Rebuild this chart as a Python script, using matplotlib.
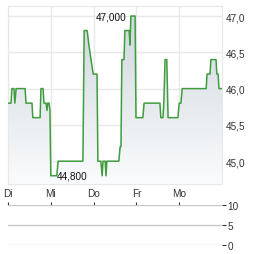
import numpy as np
import matplotlib
matplotlib.use("Agg")
import matplotlib.pyplot as plt
from matplotlib.ticker import FuncFormatter
from matplotlib.colors import LinearSegmentedColormap

plt.rcParams['font.family'] = ['Liberation Sans', 'DejaVu Sans']

# time in trading days since Tuesday (Di = 0), price
days = [0.00, 0.07, 0.09, 0.14, 0.16, 0.19, 0.40, 0.42, 0.56, 0.58, 0.75, 0.77,
        0.82, 0.84, 0.89, 0.91, 0.93, 0.96, 0.98, 1.00, 1.14, 1.17, 1.75, 1.78,
        1.85, 1.89, 1.94, 1.99, 2.08, 2.10, 2.17, 2.20, 2.22, 2.27, 2.29, 2.31,
        2.59, 2.62, 2.64, 2.66, 2.71, 2.73, 2.83, 2.85, 2.87, 2.97, 2.99, 3.15,
        3.18, 3.55, 3.57, 3.62, 3.64, 3.67, 3.71, 3.74, 3.97, 4.00, 4.04, 4.07,
        4.63, 4.65, 4.72, 4.74, 4.86, 4.88, 4.91, 4.93, 5.00]
price = [45.8, 45.8, 46.0, 46.0, 45.8, 46.0, 46.0, 45.8, 45.8, 45.6, 45.6, 46.0,
         46.0, 45.8, 45.8, 45.7, 45.8, 45.8, 45.7, 44.8, 44.8, 45.0, 45.0, 46.8,
         46.8, 46.6, 46.4, 46.2, 46.2, 45.0, 45.0, 44.8, 45.0, 45.0, 44.8, 45.0,
         45.0, 45.2, 45.2, 46.4, 46.4, 46.8, 46.8, 46.6, 47.0, 47.0, 45.6, 45.6,
         45.8, 45.8, 45.6, 45.6, 45.8, 46.4, 46.4, 45.6, 45.6, 45.8, 45.8, 46.0,
         46.0, 46.2, 46.2, 46.4, 46.4, 46.2, 46.2, 46.0, 46.0]

day_labels = ["Di", "Mi", "Do", "Fr", "Mo"]
price_ticks = [45.0, 45.5, 46.0, 46.5, 47.0]
vol_ticks = [0, 5, 10]

hi_label = "47,000"
lo_label = "44,800"

grid_c = '#e8e8e8'
txt_c = '#333333'

fig = plt.figure(figsize=(2.64, 2.55), dpi=100)
ax = fig.add_axes([8/264, 1-185/255, 214/264, 178/255])

ymin, ymax = 44.686, 47.138
ax.set_xlim(0, 5)
ax.set_ylim(ymin, ymax)

# gradient area under the line
poly = ax.fill_between(days, price, ymin, color='none', lw=0)
cmap = LinearSegmentedColormap.from_list('g', ['#fafbfc', '#cdd6dc'])
grad = np.linspace(0, 1, 256).reshape(-1, 1)
im = ax.imshow(grad, cmap=cmap, aspect='auto', origin='lower',
               extent=[0, 5, ymin, ymax], zorder=1)
im.set_clip_path(poly.get_paths()[0], transform=ax.transData)

ax.plot(days, price, color='#3f9c3f', lw=1.1, zorder=3)

ax.set_xticks(range(len(day_labels)))
ax.set_xticklabels(day_labels)
ax.set_yticks(price_ticks)
ax.yaxis.set_major_formatter(FuncFormatter(lambda v, p: f"{v:.1f}".replace('.', ',')))
ax.yaxis.tick_right()
ax.tick_params(axis='both', length=0, labelsize=7.2, colors=txt_c)
ax.tick_params(axis='x', pad=3)
ax.tick_params(axis='y', pad=3)
ax.grid(True, color=grid_c, lw=1)
ax.set_axisbelow(True)
for s in ax.spines.values():
    s.set_color(grid_c)

i_hi = int(np.argmax(price))
i_lo = int(np.argmin(price))
ax.annotate(hi_label, (days[i_hi], price[i_hi]), xytext=(-4, 0),
            textcoords='offset pixels', ha='right', va='center',
            fontsize=7.2, color='#111111', zorder=4)
ax.annotate(lo_label, (days[i_lo], price[i_lo]), xytext=(6, 0),
            textcoords='offset pixels', ha='left', va='center',
            fontsize=7.2, color='#111111', zorder=4)

# volume panel (empty)
ax2 = fig.add_axes([8/264, 1-246/255, 214/264, 40/255])
ax2.set_xlim(0, 5)
ax2.set_ylim(0, 10)
ax2.set_xticks(range(len(day_labels)))
ax2.set_yticks(vol_ticks)
ax2.yaxis.tick_right()
ax2.tick_params(axis='x', top=True, bottom=False, labeltop=False,
                labelbottom=False, length=2, width=0.8, colors=txt_c)
ax2.tick_params(axis='y', length=3, width=0.8, pad=1, labelsize=7.2, colors=txt_c)
ax2.grid(True, axis='y', color='#c8c8c8', lw=1)
for s in ax2.spines.values():
    s.set_visible(False)

fig.savefig('out.png', dpi=100)
